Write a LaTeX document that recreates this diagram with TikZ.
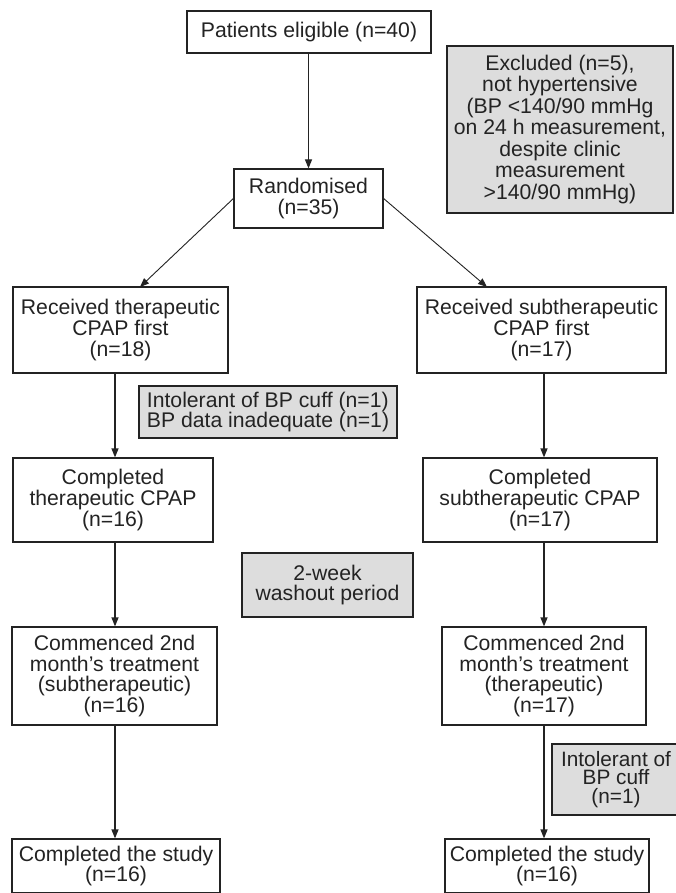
\documentclass[tikz,border=0pt]{standalone}
\usepackage{fontspec}
\setmainfont{Liberation Sans}
\usetikzlibrary{arrows.meta}
\definecolor{boxgray}{RGB}{221,221,221}
\definecolor{ink}{RGB}{35,35,35}
\begin{document}
\begin{tikzpicture}[x=1pt,y=-1pt,
  every node/.style={font=\fontsize{21.2}{20.9}\selectfont, text=ink, align=center, inner sep=0pt},
  box/.style={draw=ink, line width=1.2pt, fill=white},
  gbox/.style={box, fill=boxgray},
  arr/.style={draw=ink, line width=1.2pt, -{Triangle[length=9pt,width=7pt]}},
  diag/.style={draw=ink, line width=0.9pt, -{Triangle[length=9pt,width=7pt]}}
]
\useasboundingbox (0,0) rectangle (675,893);
\fill[white] (0,0) rectangle (675,893);

\node[box, minimum width=244pt, minimum height=42pt] (elig) at (309,32) {Patients eligible (n=40)};
\node[gbox, minimum width=226pt, minimum height=167pt, font=\fontsize{21.2}{21.5}\selectfont] (excl) at (560,129.5) {Excluded (n=5),\\not hypertensive\\(BP <140/90 mmHg\\on 24 h measurement,\\despite clinic\\measurement\\>140/90 mmHg)};
\node[box, minimum width=149pt, minimum height=59pt] (rand) at (308.5,198.5) {Randomised\\(n=35)};
\node[box, minimum width=215pt, minimum height=86pt] (rtx) at (120.5,330) {Received therapeutic\\CPAP first\\(n=18)};
\node[box, minimum width=249pt, minimum height=86pt] (rsub) at (541.5,330) {Received subtherapeutic\\CPAP first\\(n=17)};
\node[gbox, minimum width=258pt, minimum height=52pt, align=left, xshift=-1.5pt] (int1) at (269.5,412) {Intolerant of BP cuff (n=1)\\BP data inadequate (n=1)};
\node[box, minimum width=200pt, minimum height=84pt] (ctx) at (113,500) {Completed\\therapeutic CPAP\\(n=16)};
\node[box, minimum width=234pt, minimum height=84pt] (csub) at (540,500) {Completed\\subtherapeutic CPAP\\(n=17)};
\node[gbox, minimum width=171pt, minimum height=64pt] (wash) at (327.5,585) {2-week\\washout period};
\node[box, minimum width=205pt, minimum height=98pt] (mtx) at (114.5,676) {Commenced 2nd\\month’s treatment\\(subtherapeutic)\\(n=16)};
\node[box, minimum width=204pt, minimum height=98pt] (msub) at (544,676) {Commenced 2nd\\month’s treatment\\(therapeutic)\\(n=17)};
\node[gbox, minimum width=128pt, minimum height=71pt, font=\fontsize{20.8}{18.8}\selectfont] (int2) at (616,779.5) {Intolerant of\\BP cuff\\(n=1)};
\node[box, minimum width=208pt, minimum height=54pt] (done1) at (116,866) {Completed the study\\(n=16)};
\node[box, minimum width=204pt, minimum height=54pt] (done2) at (547,866) {Completed the study\\(n=16)};

\coordinate (colL) at (115,0);
\coordinate (colR) at (544,0);
\coordinate (tipL) at (140,287);
\coordinate (tipR) at (487,287);

\draw[arr] (elig.south -| rand.north) -- (rand.north);
\draw[diag] (rand.west) -- (tipL);
\draw[diag] (rand.east) -- (tipR);
\draw[arr] (rtx.south -| colL) -- (ctx.north -| colL);
\draw[arr] (ctx.south -| colL) -- (mtx.north -| colL);
\draw[arr] (mtx.south -| colL) -- (done1.north -| colL);
\draw[arr] (rsub.south -| colR) -- (csub.north -| colR);
\draw[arr] (csub.south -| colR) -- (msub.north -| colR);
\draw[arr] (msub.south -| colR) -- (done2.north -| colR);
\end{tikzpicture}
\end{document}
